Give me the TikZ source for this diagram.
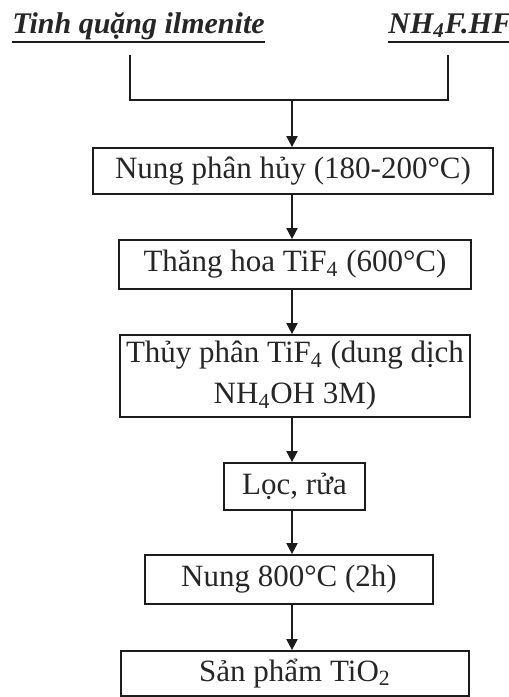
\documentclass[tikz,border=0pt]{standalone}
\usepackage{fontspec}
\setmainfont{Liberation Serif}
\usetikzlibrary{arrows.meta}
\definecolor{FlowLine}{HTML}{1C1C1C}
\definecolor{FlowText}{HTML}{262626}

\begin{document}
\begin{tikzpicture}[x=0.5pt,y=-0.5pt,
    stepbox/.style={draw=FlowLine,line width=0.9pt,inner sep=0pt,align=center,
      text=FlowText,font=\fontsize{15.5}{20.5}\selectfont},
    feed/.style={inner sep=0pt,text=FlowText,font=\fontsize{15}{18}\selectfont\bfseries\itshape},
    link/.style={draw=FlowLine,line width=0.9pt},
    flow/.style={link,-{Triangle[length=5.5pt,width=5.5pt]}}]
      \useasboundingbox (0,0) rectangle (509,697);
      % raw materials
      \node[feed,anchor=base west] (ore) at (12,33) {Tinh quặng ilmenite};
      \node[feed,anchor=base west] (salt) at (388,33) {NH\textsubscript{4}F.HF};
      \draw[link] ([yshift=-4.5pt]ore.base west) -- ([yshift=-4.5pt]ore.base east);
      \draw[link] ([yshift=-4.5pt]salt.base west) -- ([yshift=-4.5pt]salt.base east);
      \coordinate (oreDrop) at (130,55);
      \coordinate (saltDrop) at (448,55);
      \coordinate (join) at (292,100);
      % process steps
      \node[stepbox,minimum width=200pt,minimum height=23pt] (b1) at (293,171) {Nung phân hủy (180-200°C)};
      \node[stepbox,minimum width=176pt,minimum height=24.5pt] (b2) at (295,264.5) {Thăng hoa TiF\textsubscript{4} (600°C)};
      \node[stepbox,minimum width=175pt,minimum height=41pt] (b3) at (295,376) {Thủy phân TiF\textsubscript{4} (dung dịch\\NH\textsubscript{4}OH 3M)};
      \node[stepbox,minimum width=70.5pt,minimum height=23.5pt] (b4) at (294.5,486.5) {Lọc, rửa};
      \node[stepbox,minimum width=144pt,minimum height=24.5pt] (b5) at (289,579.5) {Nung 800°C (2h)};
      \node[stepbox,minimum width=174pt,minimum height=22.5pt] (b6) at (295,673.5) {Sản phẩm TiO\textsubscript{2}};
      % connectors
      \draw[link] (oreDrop) |- (join) -| (saltDrop);
      \draw[flow] (join) -- (join |- b1.north);
      \foreach \a/\b in {b1/b2,b2/b3,b3/b4,b4/b5,b5/b6}
        \draw[flow] (\a.south -| join) -- (\b.north -| join);
    \end{tikzpicture}
\end{document}
